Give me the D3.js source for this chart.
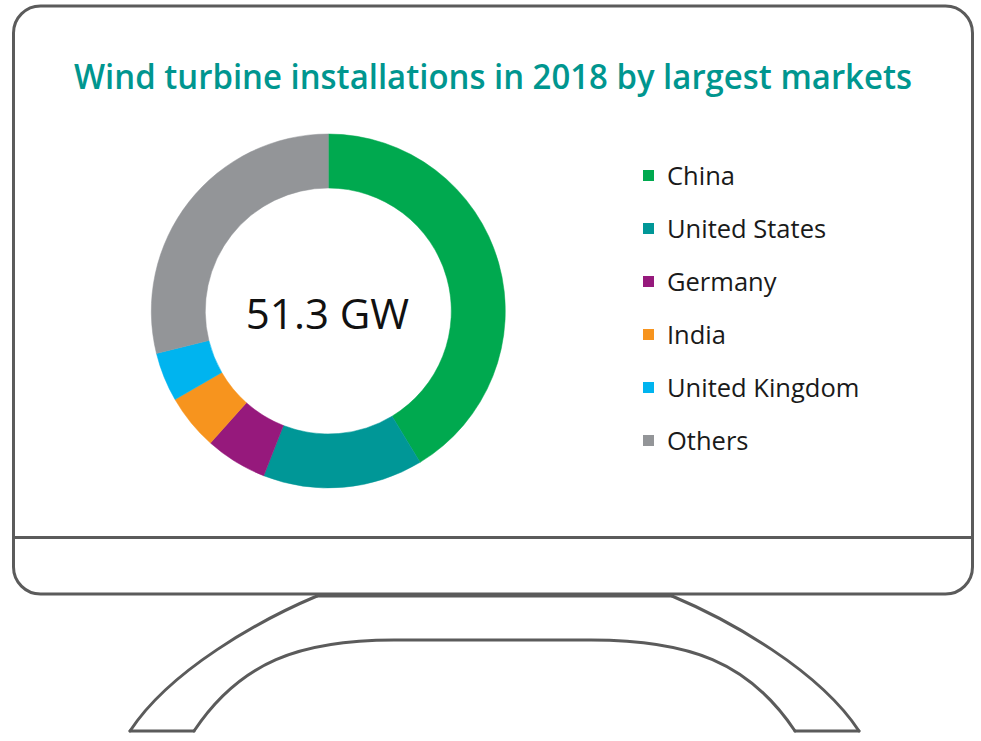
<!DOCTYPE html>
<html>
<head>
<meta charset="utf-8">
<script src="https://cdn.jsdelivr.net/npm/d3@7"></script>
<style>
  html, body { margin: 0; padding: 0; background: #ffffff; }
  svg { display: block; }
</style>
</head>
<body>
<svg id="chart" width="981" height="741"></svg>
<script>
// ---- Data ----
const titleText = "Wind turbine installations in 2018 by largest markets";
const categories = ["China", "United States", "Germany", "India", "United Kingdom", "Others"];
const values = [21.2, 7.5, 2.9, 2.6, 2.3, 14.8];
const colors = ["#00A94F", "#009797", "#96197C", "#F7941E", "#00B4EF", "#939598"];
const centerLabel = "51.3 GW";

// ---- Layout ----
const svg = d3.select("#chart");
const stroke = "#5b5b5b";

// Monitor frame
svg.append("rect")
  .attr("x", 13.5).attr("y", 6)
  .attr("width", 959).attr("height", 588)
  .attr("rx", 27).attr("ry", 27)
  .attr("fill", "none").attr("stroke", stroke).attr("stroke-width", 3);
svg.append("line")
  .attr("x1", 13.5).attr("x2", 972.5).attr("y1", 537.5).attr("y2", 537.5)
  .attr("stroke", stroke).attr("stroke-width", 3);

// Stand
const standPaths = [
  "M317,596 C260,620 170,670 130,731",
  "M672,596 C729,620 819,670 859,731",
  "M194,731 C240,662 300,640 394,640 L591,640 C689,640 749,662 795,731",
  "M130,731 L194,731",
  "M795,731 L859,731",
  "M317,596 L672,596"
];
svg.append("g").selectAll("path").data(standPaths).join("path")
  .attr("d", d => d)
  .attr("fill", "none").attr("stroke", stroke).attr("stroke-width", 3)
  .attr("stroke-linejoin", "round").attr("stroke-linecap", "round");

// Title
const title = svg.append("text")
  .attr("x", 493).attr("y", 89)
  .attr("text-anchor", "middle")
  .attr("font-family", "'Open Sans', 'Noto Sans', sans-serif")
  .attr("font-weight", 600)
  .attr("font-size", 34)
  .attr("fill", "#00968F")
  .text(titleText);
const tw = title.node().getComputedTextLength();
if (Math.abs(tw - 838) > 2) title.attr("textLength", 838).attr("lengthAdjust", "spacingAndGlyphs");

// Donut
const cx = 328.3, cy = 311, rOuter = 177, rInner = 123;
const pie = d3.pie().sort(null).value(d => d.v);
const arc = d3.arc().innerRadius(rInner).outerRadius(rOuter);
const data = categories.map((c, i) => ({ c, v: values[i], col: colors[i] }));
const g = svg.append("g").attr("transform", `translate(${cx},${cy})`);
g.selectAll("path").data(pie(data)).join("path")
  .attr("d", arc)
  .attr("fill", d => d.data.col)
  .attr("stroke", d => d.data.col)
  .attr("stroke-width", 0.5);

g.append("text")
  .attr("x", -0.8).attr("y", 18)
  .attr("text-anchor", "middle")
  .attr("font-family", "'Open Sans', 'Noto Sans', sans-serif")
  .attr("font-size", 42)
  .attr("fill", "#111111")
  .text(centerLabel);

// Legend
const legendY = d3.scalePoint().domain(categories).range([185, 450]);
const lg = svg.append("g");
const items = lg.selectAll("g").data(data).join("g")
  .attr("transform", d => `translate(0,${legendY(d.c)})`);
items.append("rect")
  .attr("x", 643).attr("y", -15).attr("width", 11).attr("height", 11)
  .attr("fill", d => d.col);
items.append("text")
  .attr("x", 667).attr("y", 0)
  .attr("font-family", "'Open Sans', 'Noto Sans', sans-serif")
  .attr("font-size", 25.5)
  .attr("fill", "#1a1a1a")
  .text(d => d.c);
</script>
</body>
</html>
